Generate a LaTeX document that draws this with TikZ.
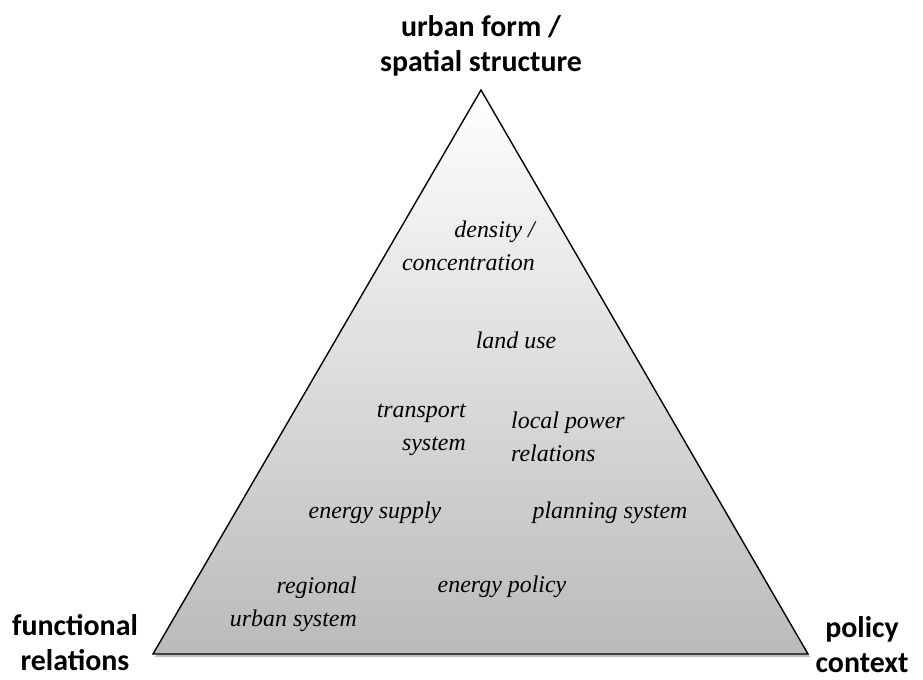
\documentclass[tikz,border=0pt]{standalone}
\usepackage{fontspec}
\usetikzlibrary{calc}
\setmainfont{Liberation Serif}
\newfontfamily\lblfont{Carlito}
\begin{document}
\begin{tikzpicture}[x=1bp,y=-1bp,
  corner/.style={font=\lblfont\bfseries\fontsize{30}{35}\selectfont, align=center, inner sep=0pt},
  item/.style={font=\itshape\fontsize{24}{33}\selectfont, inner sep=0pt}]
\useasboundingbox (0,0) rectangle (923,680);
\coordinate (A) at (481,90);
\coordinate (L) at (153,654);
\coordinate (R) at (808,654);
\fill[black!25] ($(A)+(2,3)$) -- ($(L)+(2,3)$) -- ($(R)+(2,3)$) -- cycle;
\shade[top color=white, bottom color=black!27] (A) -- (L) -- (R) -- cycle;
\draw[line width=1.4bp, line join=miter] (A) -- (L) -- (R) -- cycle;
\node[corner] (top) at (481,46) {urban form /\\spatial structure};
\node[corner] (fr) at (75,643) {functional\\relations};
\node[corner] (pc) at (862,645) {policy\\context};
\node[item, align=right, anchor=east] (dens) at (535,246) {density /\\concentration};
\node[item] (land) at (516,340) {land use};
\node[item, align=right, anchor=east] (trans) at (466,430) {transport\\system};
\node[item, align=left, anchor=west] (local) at (511,437) {local power\\relations};
\node[item] (esup) at (375,513) {energy supply};
\node[item] (plan) at (610,513) {planning system};
\node[item, align=right, anchor=east] (reg) at (357,604) {regional\\urban system};
\node[item] (epol) at (502,587) {energy policy};
\end{tikzpicture}
\end{document}
